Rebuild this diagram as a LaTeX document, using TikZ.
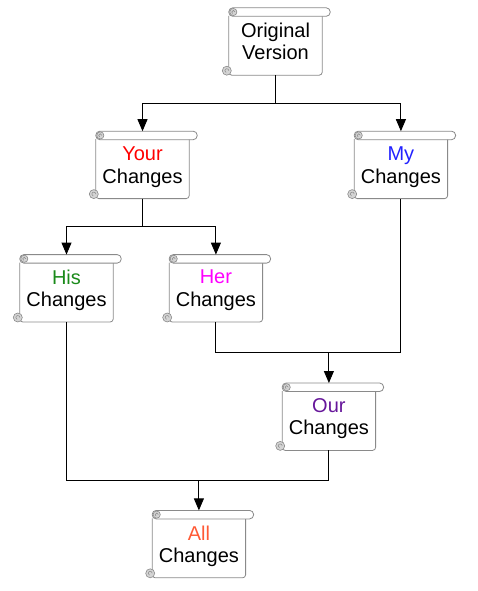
\documentclass[tikz,border=0pt]{standalone}
\usepackage{fontspec}
\setmainfont{Liberation Sans}
\usetikzlibrary{arrows.meta,calc,positioning}
\definecolor{Edge}{HTML}{8A8A8A}
\definecolor{Curl}{HTML}{D4D4D4}
\definecolor{YourRed}{HTML}{FF0000}
\definecolor{MyBlue}{HTML}{2222FF}
\definecolor{HisGreen}{HTML}{1A8A1A}
\definecolor{HerPink}{HTML}{FF00FF}
\definecolor{OurPurple}{HTML}{66169A}
\definecolor{AllOrange}{HTML}{FF5A36}
\tikzset{scroll/.style={minimum width=93pt,minimum height=67pt,inner sep=0pt,align=center,font=\fontsize{20}{22.5}\selectfont,text depth=0pt},rim/.style={draw=Edge,line width=.8pt},curl/.style={draw=Edge,fill=Curl,line width=.6pt},wire/.style={line width=.9pt,draw=black},flow/.style={wire,-{Triangle[length=12pt,width=10pt]}}}
\begin{document}
\begin{tikzpicture}[x=1pt,y=1pt,node distance=56pt]
      \useasboundingbox (0,0) rectangle (477,-591);
      \node[scroll](orig) at (275.5,-41.5){Original\\Version};
      \node[scroll,below=of orig,xshift=-133pt](your){\textcolor{YourRed}{Your}\\Changes};
      \node[scroll,right=165pt of your](my){\textcolor{MyBlue}{My}\\Changes};
      \node[scroll,below=of your,xshift=-76pt](his){\textcolor{HisGreen}{His}\\Changes};
      \node[scroll,right=of his](her){\textcolor{HerPink}{Her}\\Changes};
      \node[scroll,below=61pt of her,xshift=113pt](our){\textcolor{OurPurple}{Our}\\Changes};
      \node[scroll,below=60pt of our,xshift=-130pt](all){\textcolor{AllOrange}{All}\\Changes};
      % scroll outlines
      \foreach \n in {orig,your,my,his,her,our,all}{
        \draw[rim,rounded corners=3pt]([yshift=-8pt]\n.north west)--(\n.south west)--(\n.south east)--([yshift=-8pt]\n.north east);
        \draw[rim,fill=white,rounded corners=4pt](\n.north west)rectangle([xshift=8pt,yshift=-8.5pt]\n.north east);
        \draw[curl]([xshift=4.5pt,yshift=-4.2pt]\n.north west)circle(3.6pt);
        \draw[Edge,line width=.5pt]([xshift=4.5pt,yshift=-4.2pt]\n.north west)++(1.6pt,0)arc(0:250:1.6pt);
        \draw[curl]([xshift=-2pt,yshift=4.5pt]\n.south west)circle(4.5pt);
        \draw[Edge,line width=.5pt]([xshift=-2pt,yshift=4.5pt]\n.south west)++(2pt,0)arc(0:250:2pt);
      }
      % connectors
      \coordinate(fork1)at($(orig.south)!.5!(orig.south|-your.north)$);
      \coordinate(fork2)at($(your.south)!.5!(your.south|-his.north)$);
      \coordinate(join1)at($(our.north)!.5!(our.north|-her.south)$);
      \coordinate(join2)at($(all.north)!.5!(all.north|-our.south)$);
      \draw[wire](orig)--(fork1);\draw[flow](fork1)-|(your);\draw[flow](fork1)-|(my);
      \draw[wire](your)--(fork2);\draw[flow](fork2)-|(his);\draw[flow](fork2)-|(her);
      \draw[wire](her)|-(join1)-|(my);\draw[flow](join1)--(our);
      \draw[wire](his)|-(join2)-|(our);\draw[flow](join2)--(all);
    \end{tikzpicture}
\end{document}
